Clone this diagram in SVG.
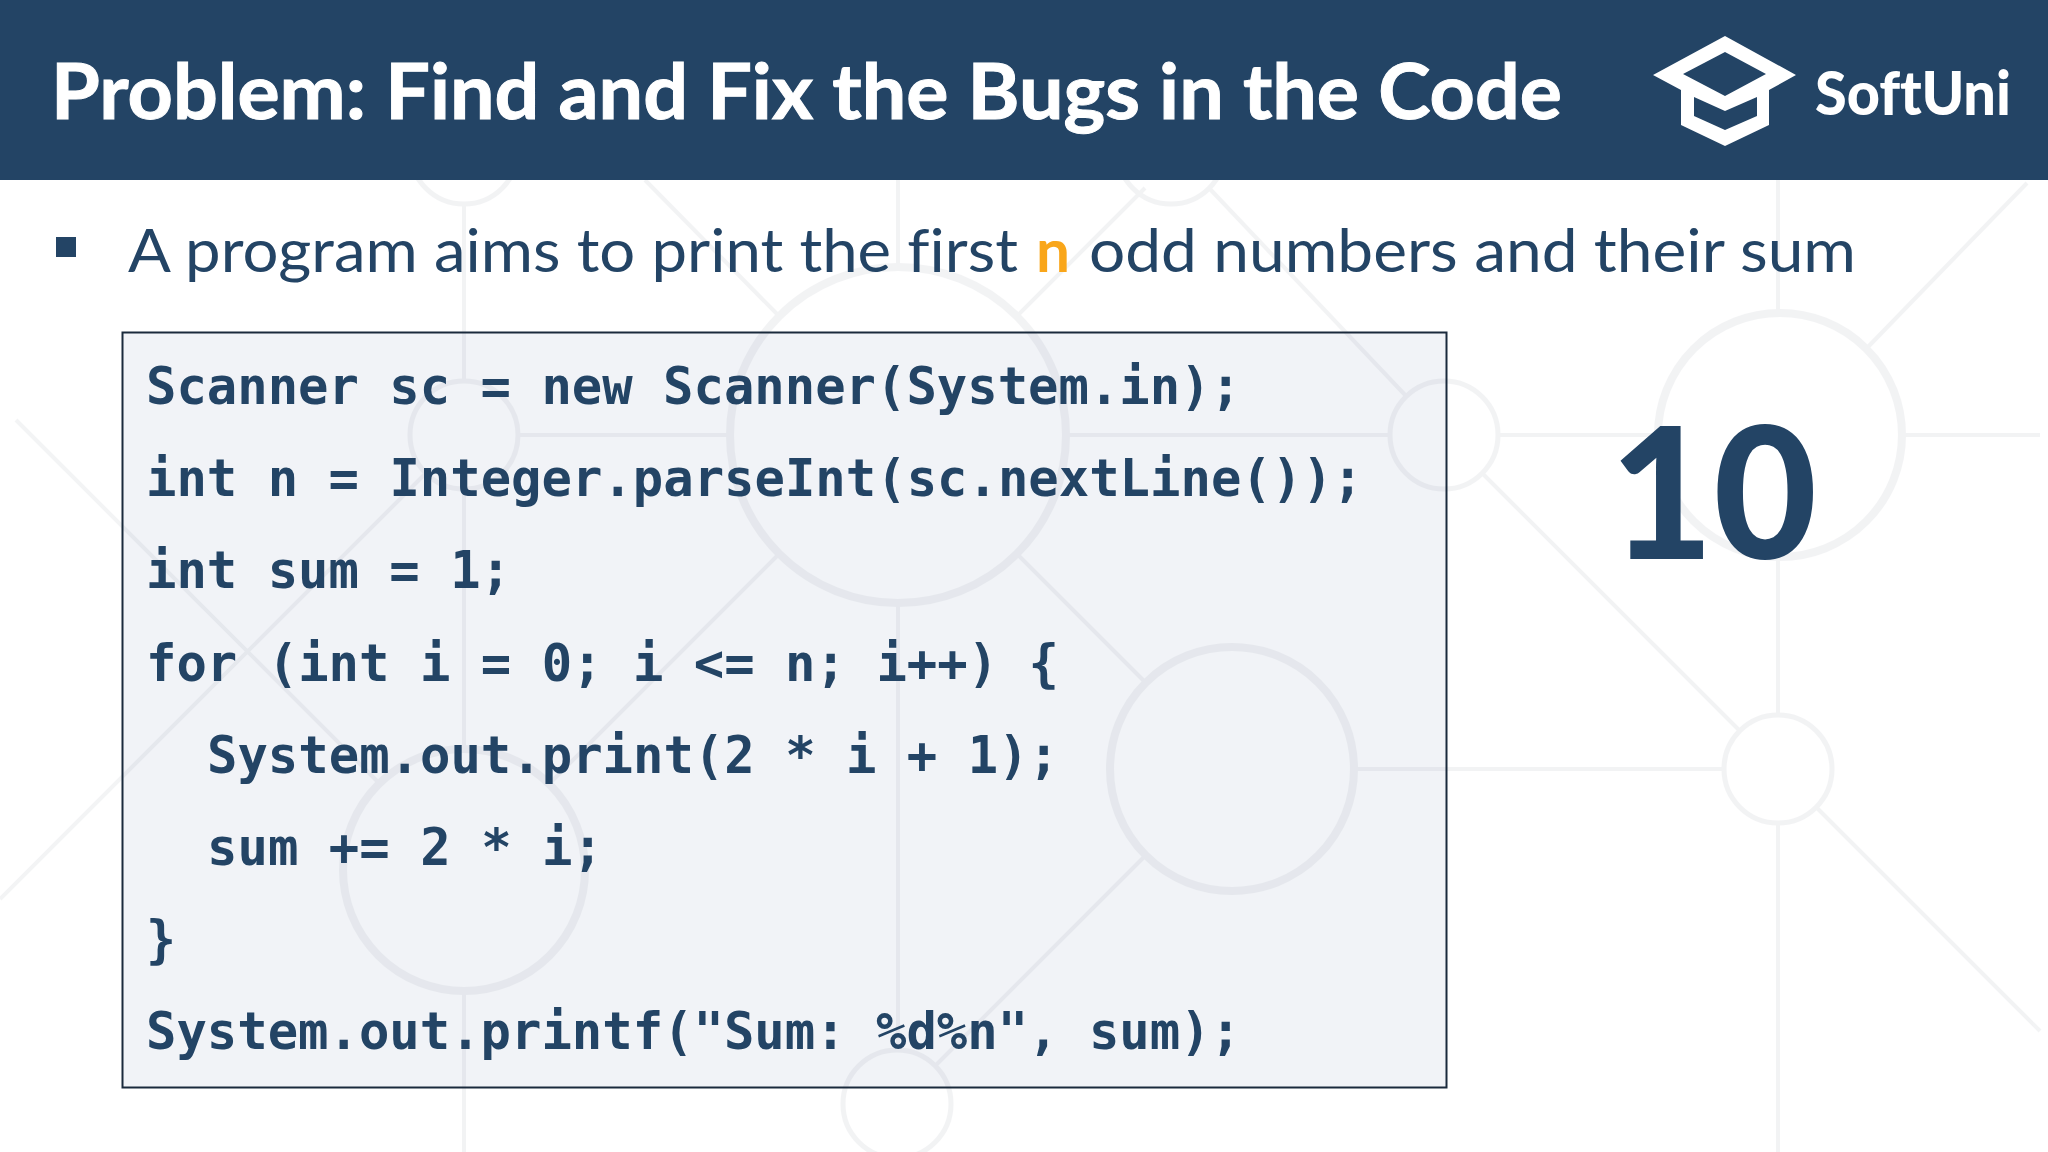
<svg xmlns="http://www.w3.org/2000/svg" width="2048" height="1152" viewBox="0 0 2048 1152">
<style>
text{font-variant-ligatures:none}
.bgl{stroke-width:4;fill:none}
.bgc{stroke-width:5;fill:none}
.bgb{stroke-width:8;fill:none}
.sans{font-family:Lato,"Noto Sans",sans-serif}
.code{font-family:"DejaVu Sans Mono","Liberation Mono",monospace;font-weight:700;font-size:52px;fill:#234465;white-space:pre}
</style>
<rect width="2048" height="1152" fill="#ffffff"/>
<rect x="122.5" y="332.5" width="1324" height="755" fill="#f1f3f7"/>
<g id="background" stroke="#2a3550" opacity="0.055">
<circle class="bgc" cx="464" cy="150" r="54"/>
<circle class="bgc" cx="1171" cy="150" r="54"/>
<circle class="bgb" cx="898" cy="435" r="168"/>
<circle class="bgc" cx="464" cy="435" r="54"/>
<circle class="bgc" cx="1444" cy="435" r="54"/>
<circle class="bgb" cx="1780" cy="435" r="122"/>
<circle class="bgb" cx="1232" cy="769" r="122"/>
<circle class="bgc" cx="1778" cy="769" r="54"/>
<circle class="bgb" cx="464" cy="870" r="121"/>
<circle class="bgc" cx="897" cy="1104" r="54"/>
<path class="bgl" d="M464 204V380M464 490V749M464 991V1152M898 180V267M898 603V1050M1778 180V313M1778 557V715M1778 823V1152"/>
<path class="bgl" d="M518 435H730M1066 435H1390M1497 435H1658M1902 435H2040M1354 769H1724"/>
<path class="bgl" d="M645 180L779 316M1017 316L1145 188M1209 188L1407 397M16 420L379 783M426 473L0 899M1482 473L1740 731M2027 183L1866 349M1816 807L2040 1031M1146 855L935 1066M1017 554L1146 683M779 554L551 782"/>
</g>
<g id="header">
<rect width="2048" height="180" fill="#234465"/>
<text class="sans" x="51" y="119" font-weight="700" font-size="76" fill="#ffffff" stroke="#ffffff" stroke-width="1" textLength="1511" lengthAdjust="spacingAndGlyphs">Problem: Find and Fix the Bugs in the Code</text>
</g>
<g id="logo">
<path fill="#ffffff" fill-rule="evenodd" d="M1653 75L1725 36L1796 75L1769 90V125L1725 146L1681 125V90ZM1725 52L1683 74L1725 96L1766 74ZM1694 97V116L1725 130L1757 116V97L1725 111Z"/>
<text class="sans" x="1815" y="115" font-weight="900" font-size="60" fill="#ffffff" textLength="196" lengthAdjust="spacingAndGlyphs">SoftUni</text>
</g>
<g id="bullet">
<rect x="56" y="237" width="20" height="20" fill="#234465"/>
<text class="sans" y="272" font-size="60" fill="#234465"><tspan x="128" textLength="890" lengthAdjust="spacingAndGlyphs">A program aims to print the first</tspan><tspan x="1036" textLength="34" lengthAdjust="spacingAndGlyphs" font-weight="700" fill="#f9a61a">n</tspan><tspan x="1089" textLength="767" lengthAdjust="spacingAndGlyphs">odd numbers and their sum</tspan></text>
</g>
<g id="code">
<rect x="122.5" y="332.5" width="1324" height="755" fill="none" stroke="#1a2a3c" stroke-width="2"/>
<text class="code" x="146" y="404" textLength="1095" lengthAdjust="spacingAndGlyphs">Scanner sc = new Scanner(System.in);</text>
<text class="code" x="146" y="496" textLength="1217" lengthAdjust="spacingAndGlyphs">int n = Integer.parseInt(sc.nextLine());</text>
<text class="code" x="146" y="588" textLength="365" lengthAdjust="spacingAndGlyphs">int sum = 1;</text>
<text class="code" x="146" y="681" textLength="913" lengthAdjust="spacingAndGlyphs">for (int i = 0; i &lt;= n; i++) {</text>
<text class="code" x="207" y="773" textLength="852" lengthAdjust="spacingAndGlyphs">System.out.print(2 * i + 1);</text>
<text class="code" x="207" y="865" textLength="396" lengthAdjust="spacingAndGlyphs">sum += 2 * i;</text>
<text class="code" x="146" y="957" textLength="30" lengthAdjust="spacingAndGlyphs">}</text>
<text class="code" x="146" y="1049" textLength="1095" lengthAdjust="spacingAndGlyphs">System.out.printf("Sum: %d%n", sum);</text>
</g>
<g id="number">
<text class="sans" x="1610" y="559" font-weight="900" font-size="184" fill="#234465" textLength="207" lengthAdjust="spacingAndGlyphs">10</text>
</g>
</svg>
